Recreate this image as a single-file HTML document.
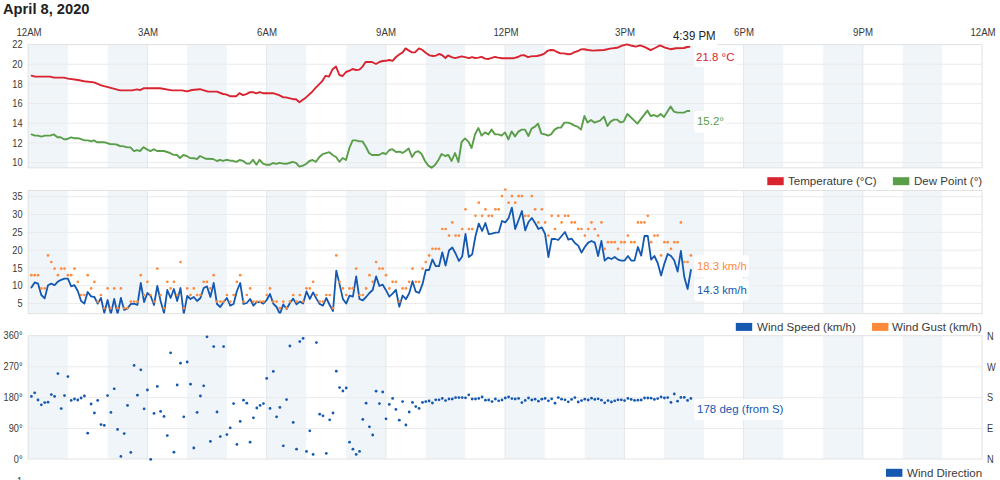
<!DOCTYPE html>
<html><head><meta charset="utf-8"><title>Weather</title>
<style>
html,body{margin:0;padding:0;background:#fff;}
body{width:1000px;height:480px;position:relative;overflow:hidden;font-family:"Liberation Sans",sans-serif;}
.t{position:absolute;white-space:nowrap;line-height:1;color:#333;}
.title{font-size:14.7px;font-weight:bold;color:#222;}
.xl{font-size:10px;color:#3a3a3a;transform:scaleX(0.965);}
.yl{font-size:10.5px;color:#3a3a3a;line-height:12px;transform:scaleX(0.875);transform-origin:0 50%;}
.lg{font-size:11.55px;color:#3a3a3a;line-height:14px;}
.vbx{position:absolute;background:rgba(255,255,255,0.88);border-radius:3px;}
</style></head><body>
<svg width="1000" height="480" viewBox="0 0 1000 480" style="position:absolute;left:0;top:0">
<rect x="28.15" y="44.6" width="39.75" height="123.20" fill="#f0f5fa"/>
<rect x="107.65" y="44.6" width="39.75" height="123.20" fill="#f0f5fa"/>
<rect x="187.14" y="44.6" width="39.75" height="123.20" fill="#f0f5fa"/>
<rect x="266.64" y="44.6" width="39.75" height="123.20" fill="#f0f5fa"/>
<rect x="346.13" y="44.6" width="39.75" height="123.20" fill="#f0f5fa"/>
<rect x="425.63" y="44.6" width="39.75" height="123.20" fill="#f0f5fa"/>
<rect x="505.12" y="44.6" width="39.75" height="123.20" fill="#f0f5fa"/>
<rect x="584.62" y="44.6" width="39.75" height="123.20" fill="#f0f5fa"/>
<rect x="664.12" y="44.6" width="39.75" height="123.20" fill="#f0f5fa"/>
<rect x="743.61" y="44.6" width="39.75" height="123.20" fill="#f0f5fa"/>
<rect x="823.11" y="44.6" width="39.75" height="123.20" fill="#f0f5fa"/>
<rect x="902.60" y="44.6" width="39.75" height="123.20" fill="#f0f5fa"/>
<line x1="28.15" x2="982.1" y1="64.27" y2="64.27" stroke="#eaeaea" stroke-width="1"/>
<line x1="28.15" x2="982.1" y1="83.94" y2="83.94" stroke="#eaeaea" stroke-width="1"/>
<line x1="28.15" x2="982.1" y1="103.61" y2="103.61" stroke="#eaeaea" stroke-width="1"/>
<line x1="28.15" x2="982.1" y1="123.28" y2="123.28" stroke="#eaeaea" stroke-width="1"/>
<line x1="28.15" x2="982.1" y1="142.95" y2="142.95" stroke="#eaeaea" stroke-width="1"/>
<line x1="28.15" x2="982.1" y1="162.62" y2="162.62" stroke="#eaeaea" stroke-width="1"/>
<line x1="147.39" x2="147.39" y1="44.6" y2="167.8" stroke="#e5e6e8" stroke-width="1"/>
<line x1="266.64" x2="266.64" y1="44.6" y2="167.8" stroke="#e5e6e8" stroke-width="1"/>
<line x1="385.88" x2="385.88" y1="44.6" y2="167.8" stroke="#e5e6e8" stroke-width="1"/>
<line x1="505.12" x2="505.12" y1="44.6" y2="167.8" stroke="#e5e6e8" stroke-width="1"/>
<line x1="624.37" x2="624.37" y1="44.6" y2="167.8" stroke="#e5e6e8" stroke-width="1"/>
<line x1="743.61" x2="743.61" y1="44.6" y2="167.8" stroke="#e5e6e8" stroke-width="1"/>
<line x1="862.86" x2="862.86" y1="44.6" y2="167.8" stroke="#e5e6e8" stroke-width="1"/>
<rect x="28.15" y="44.6" width="953.95" height="123.20" fill="none" stroke="#e2e2e2" stroke-width="1"/>
<rect x="28.15" y="190.5" width="39.75" height="123.10" fill="#f0f5fa"/>
<rect x="107.65" y="190.5" width="39.75" height="123.10" fill="#f0f5fa"/>
<rect x="187.14" y="190.5" width="39.75" height="123.10" fill="#f0f5fa"/>
<rect x="266.64" y="190.5" width="39.75" height="123.10" fill="#f0f5fa"/>
<rect x="346.13" y="190.5" width="39.75" height="123.10" fill="#f0f5fa"/>
<rect x="425.63" y="190.5" width="39.75" height="123.10" fill="#f0f5fa"/>
<rect x="505.12" y="190.5" width="39.75" height="123.10" fill="#f0f5fa"/>
<rect x="584.62" y="190.5" width="39.75" height="123.10" fill="#f0f5fa"/>
<rect x="664.12" y="190.5" width="39.75" height="123.10" fill="#f0f5fa"/>
<rect x="743.61" y="190.5" width="39.75" height="123.10" fill="#f0f5fa"/>
<rect x="823.11" y="190.5" width="39.75" height="123.10" fill="#f0f5fa"/>
<rect x="902.60" y="190.5" width="39.75" height="123.10" fill="#f0f5fa"/>
<line x1="28.15" x2="982.1" y1="196.73" y2="196.73" stroke="#eaeaea" stroke-width="1"/>
<line x1="28.15" x2="982.1" y1="214.54" y2="214.54" stroke="#eaeaea" stroke-width="1"/>
<line x1="28.15" x2="982.1" y1="232.35" y2="232.35" stroke="#eaeaea" stroke-width="1"/>
<line x1="28.15" x2="982.1" y1="250.16" y2="250.16" stroke="#eaeaea" stroke-width="1"/>
<line x1="28.15" x2="982.1" y1="267.97" y2="267.97" stroke="#eaeaea" stroke-width="1"/>
<line x1="28.15" x2="982.1" y1="285.78" y2="285.78" stroke="#eaeaea" stroke-width="1"/>
<line x1="28.15" x2="982.1" y1="303.59" y2="303.59" stroke="#eaeaea" stroke-width="1"/>
<line x1="147.39" x2="147.39" y1="190.5" y2="313.6" stroke="#e5e6e8" stroke-width="1"/>
<line x1="266.64" x2="266.64" y1="190.5" y2="313.6" stroke="#e5e6e8" stroke-width="1"/>
<line x1="385.88" x2="385.88" y1="190.5" y2="313.6" stroke="#e5e6e8" stroke-width="1"/>
<line x1="505.12" x2="505.12" y1="190.5" y2="313.6" stroke="#e5e6e8" stroke-width="1"/>
<line x1="624.37" x2="624.37" y1="190.5" y2="313.6" stroke="#e5e6e8" stroke-width="1"/>
<line x1="743.61" x2="743.61" y1="190.5" y2="313.6" stroke="#e5e6e8" stroke-width="1"/>
<line x1="862.86" x2="862.86" y1="190.5" y2="313.6" stroke="#e5e6e8" stroke-width="1"/>
<rect x="28.15" y="190.5" width="953.95" height="123.10" fill="none" stroke="#e2e2e2" stroke-width="1"/>
<rect x="28.15" y="335.7" width="39.75" height="123.30" fill="#f0f5fa"/>
<rect x="107.65" y="335.7" width="39.75" height="123.30" fill="#f0f5fa"/>
<rect x="187.14" y="335.7" width="39.75" height="123.30" fill="#f0f5fa"/>
<rect x="266.64" y="335.7" width="39.75" height="123.30" fill="#f0f5fa"/>
<rect x="346.13" y="335.7" width="39.75" height="123.30" fill="#f0f5fa"/>
<rect x="425.63" y="335.7" width="39.75" height="123.30" fill="#f0f5fa"/>
<rect x="505.12" y="335.7" width="39.75" height="123.30" fill="#f0f5fa"/>
<rect x="584.62" y="335.7" width="39.75" height="123.30" fill="#f0f5fa"/>
<rect x="664.12" y="335.7" width="39.75" height="123.30" fill="#f0f5fa"/>
<rect x="743.61" y="335.7" width="39.75" height="123.30" fill="#f0f5fa"/>
<rect x="823.11" y="335.7" width="39.75" height="123.30" fill="#f0f5fa"/>
<rect x="902.60" y="335.7" width="39.75" height="123.30" fill="#f0f5fa"/>
<line x1="28.15" x2="982.1" y1="366.82" y2="366.82" stroke="#eaeaea" stroke-width="1"/>
<line x1="28.15" x2="982.1" y1="397.65" y2="397.65" stroke="#eaeaea" stroke-width="1"/>
<line x1="28.15" x2="982.1" y1="428.48" y2="428.48" stroke="#eaeaea" stroke-width="1"/>
<line x1="147.39" x2="147.39" y1="335.7" y2="459.0" stroke="#e5e6e8" stroke-width="1"/>
<line x1="266.64" x2="266.64" y1="335.7" y2="459.0" stroke="#e5e6e8" stroke-width="1"/>
<line x1="385.88" x2="385.88" y1="335.7" y2="459.0" stroke="#e5e6e8" stroke-width="1"/>
<line x1="505.12" x2="505.12" y1="335.7" y2="459.0" stroke="#e5e6e8" stroke-width="1"/>
<line x1="624.37" x2="624.37" y1="335.7" y2="459.0" stroke="#e5e6e8" stroke-width="1"/>
<line x1="743.61" x2="743.61" y1="335.7" y2="459.0" stroke="#e5e6e8" stroke-width="1"/>
<line x1="862.86" x2="862.86" y1="335.7" y2="459.0" stroke="#e5e6e8" stroke-width="1"/>
<rect x="28.15" y="335.7" width="953.95" height="123.30" fill="none" stroke="#e2e2e2" stroke-width="1"/>
<polyline points="31.6,75.6 35.0,76.6 50.0,76.6 54.0,77.6 64.0,77.6 68.0,78.6 78.0,80.0 84.0,81.2 94.0,82.4 102.0,85.6 109.0,87.4 120.0,90.4 132.0,90.4 137.0,89.4 140.0,90.2 144.0,88.2 160.0,88.2 172.0,90.4 182.0,90.4 187.0,91.4 192.0,90.0 200.0,89.2 208.0,91.6 217.0,91.6 223.0,94.0 226.0,94.4 230.0,96.2 236.4,96.2 239.4,93.2 243.0,95.2 246.4,94.2 250.0,92.2 253.0,92.2 256.4,93.4 259.6,92.2 263.0,93.2 273.0,93.2 279.0,95.2 283.0,97.2 286.0,97.4 293.0,99.2 296.0,99.2 299.4,102.2 306.0,97.4 312.0,92.0 316.0,87.4 322.0,81.4 325.6,75.8 329.0,76.6 332.4,69.6 336.0,66.6 339.4,75.0 342.6,76.0 346.0,72.0 349.6,70.6 352.6,69.0 356.0,70.0 359.4,69.6 362.6,66.6 365.6,62.0 372.0,62.0 376.0,64.0 379.4,62.0 382.6,61.0 386.0,60.8 389.0,60.0 392.6,60.8 396.0,57.0 400.0,54.0 402.4,52.6 405.6,48.4 409.0,50.6 412.0,52.4 415.0,52.4 419.0,48.4 422.4,50.0 426.0,53.0 429.6,55.4 433.0,56.0 436.0,55.6 439.0,54.0 442.0,55.0 445.4,58.0 448.0,55.4 451.6,57.2 455.0,58.2 458.0,57.4 461.6,56.4 465.0,57.2 469.0,58.2 472.0,57.2 475.0,58.0 478.4,57.6 481.6,56.8 485.0,58.6 488.0,59.0 491.0,58.2 495.0,56.8 498.0,57.6 502.0,58.2 514.0,58.2 518.0,57.0 521.0,55.4 524.0,55.2 528.0,57.2 531.0,56.4 537.0,56.0 541.0,55.0 544.4,53.6 548.0,50.6 551.0,50.0 554.0,50.2 557.0,52.0 560.0,53.2 564.0,53.4 568.0,54.2 571.0,54.0 574.0,52.4 578.0,51.0 581.0,49.4 584.0,49.2 588.0,50.0 593.0,50.6 599.0,50.2 604.0,50.0 610.0,48.6 617.0,47.8 622.0,45.6 627.0,44.4 632.0,45.8 636.0,46.6 640.0,45.4 645.0,47.2 650.6,50.2 655.0,48.0 660.0,45.4 665.0,47.6 670.6,49.2 676.0,48.2 684.0,48.0 687.0,47.0 689.4,46.8" fill="none" stroke="#d9232f" stroke-width="1.9" stroke-linejoin="round" stroke-linecap="round"/>
<polyline points="31.6,134.4 35.0,135.6 38.0,135.6 41.4,136.6 45.0,135.6 50.0,135.6 54.0,134.4 57.4,137.2 60.6,137.2 64.0,139.2 67.0,139.2 71.0,137.4 74.0,138.2 78.0,138.2 84.0,140.2 88.0,140.4 91.0,141.4 94.0,140.4 97.0,142.2 104.0,142.2 110.0,144.0 116.0,144.4 120.0,146.0 124.0,146.4 127.0,147.4 130.4,147.4 134.0,151.2 137.0,150.2 140.0,151.0 143.6,147.2 147.0,149.4 150.4,151.2 153.6,149.2 157.0,151.0 164.0,151.0 170.0,153.0 173.0,154.6 177.0,155.0 180.0,158.0 183.4,155.0 187.0,156.2 190.0,158.0 194.0,158.2 197.0,159.2 200.0,156.0 206.0,158.8 213.0,159.0 217.0,161.0 220.0,159.8 223.0,160.8 226.4,159.8 230.0,160.6 233.0,160.8 236.4,161.8 239.6,160.0 243.0,160.8 246.4,163.6 249.6,163.6 253.0,159.8 256.4,164.8 259.6,159.8 263.0,163.6 266.4,164.8 269.6,164.8 273.0,163.0 276.4,163.8 279.6,162.8 283.0,163.6 286.0,163.8 289.4,163.0 292.6,161.8 296.0,162.8 299.4,166.6 303.0,165.6 306.0,164.0 309.4,161.0 312.6,160.0 316.0,161.8 319.4,157.0 322.6,154.2 326.0,153.2 329.4,152.2 332.6,155.0 336.0,157.0 339.4,161.8 342.6,158.0 346.0,160.0 349.4,148.0 352.6,140.4 356.0,140.4 359.4,141.4 362.6,141.4 366.0,147.0 369.0,153.0 372.0,155.0 379.0,155.0 382.6,153.0 386.0,154.0 389.4,150.0 392.4,149.2 396.0,152.0 400.0,151.6 402.4,153.0 405.6,151.0 408.6,148.4 412.0,157.0 415.0,152.4 418.4,151.2 421.6,154.0 425.0,161.0 428.4,165.6 431.6,167.8 435.0,165.0 438.4,160.0 441.6,154.0 445.0,156.0 448.4,155.0 451.6,161.0 455.0,153.0 458.4,162.0 461.6,142.0 465.0,138.4 468.4,141.6 471.6,148.0 475.0,134.4 478.4,128.0 481.6,135.6 485.0,132.4 488.4,134.4 491.6,129.6 495.0,134.4 498.4,134.4 501.6,135.6 505.0,132.4 508.4,139.4 511.6,131.4 515.0,136.4 518.4,131.6 521.6,129.6 525.0,129.6 528.4,136.0 531.6,128.6 535.0,126.6 538.0,123.6 541.4,133.6 545.0,134.4 548.0,135.6 551.0,134.4 554.6,129.6 558.0,127.6 561.0,127.6 564.4,122.6 568.0,122.6 571.0,123.6 574.4,125.6 577.6,126.6 581.0,129.6 584.4,116.0 587.6,122.6 591.0,120.0 594.4,122.6 600.0,120.6 604.0,116.6 607.4,126.0 610.6,121.6 614.0,119.6 617.0,119.6 620.6,122.4 623.6,121.6 627.4,114.0 637.4,123.6 647.4,110.6 650.6,116.0 654.0,115.0 657.4,116.6 660.6,114.0 664.0,117.0 670.6,106.6 674.0,111.6 677.4,112.6 684.0,112.6 687.0,111.0 689.4,111.0" fill="none" stroke="#5a9e49" stroke-width="1.9" stroke-linejoin="round" stroke-linecap="round"/>
<clipPath id="c2"><rect x="28.15" y="190.5" width="953.95" height="123.10"/></clipPath><g clip-path="url(#c2)">
<polyline points="31.4,287.6 34.7,282.4 38.0,283.6 41.3,295.0 44.7,298.4 48.0,285.2 51.3,283.6 54.6,285.2 57.9,281.6 61.2,279.8 64.5,278.6 67.9,278.6 71.2,286.4 74.5,285.2 77.8,291.0 81.1,301.0 84.4,303.6 87.7,292.0 91.1,296.4 94.4,297.0 97.7,303.6 101.0,298.0 104.3,313.0 107.6,300.0 110.9,314.0 114.2,299.0 117.6,314.0 120.9,298.0 124.2,310.0 127.5,308.4 130.8,304.0 134.1,303.6 137.4,305.0 140.8,283.0 144.1,302.0 147.4,293.0 150.7,296.0 154.0,305.0 157.3,286.0 160.6,301.0 164.0,313.0 167.3,290.0 170.6,298.0 173.9,289.0 177.2,301.0 180.5,288.0 183.8,314.0 187.2,296.0 190.5,299.0 193.8,297.0 197.1,301.0 200.4,298.0 203.7,288.0 207.0,286.4 210.4,297.0 213.7,283.0 217.0,304.0 220.3,307.0 223.6,302.0 226.9,298.0 230.2,305.6 233.6,304.0 236.9,291.0 240.2,283.0 243.5,304.0 246.8,303.0 250.1,299.0 253.4,305.6 256.8,302.0 260.1,302.0 263.4,303.6 266.7,300.0 270.0,294.0 273.3,303.6 276.6,307.0 279.9,314.0 283.3,304.4 286.6,309.0 289.9,303.0 293.2,298.6 296.5,304.4 299.8,301.6 303.1,303.6 306.5,291.4 309.8,299.0 313.1,292.4 316.4,298.6 319.7,304.0 323.0,305.6 326.3,298.0 329.7,305.0 333.0,311.0 336.3,270.6 339.6,284.4 342.9,299.0 346.2,303.6 349.5,295.6 352.9,296.6 356.2,276.4 359.5,299.0 362.8,300.4 366.1,297.0 369.4,293.0 372.7,290.0 376.1,276.4 379.4,286.0 382.7,284.7 386.0,290.2 389.3,296.7 392.6,293.7 395.9,289.8 399.3,306.7 402.6,295.5 405.9,299.2 409.2,293.2 412.5,281.2 415.8,291.7 419.1,292.8 422.5,284.2 425.8,270.0 429.1,270.0 432.4,259.5 435.7,266.2 439.0,266.2 442.3,252.3 445.6,265.5 449.0,250.5 452.3,247.5 455.6,253.5 458.9,261.0 462.2,256.5 465.5,234.0 468.8,257.0 472.2,254.4 475.5,236.0 478.8,223.6 482.1,231.0 485.4,223.0 488.7,234.0 492.0,233.6 495.4,232.6 498.7,232.4 502.0,221.0 505.3,222.4 508.6,218.0 511.9,207.6 515.2,229.0 518.6,220.0 521.9,211.0 525.2,230.4 528.5,222.0 531.8,218.0 535.1,223.0 538.4,229.0 541.8,227.4 545.1,234.0 548.4,257.0 551.7,239.0 555.0,239.0 558.3,240.0 561.6,236.0 565.0,232.0 568.3,239.6 571.6,238.6 574.9,243.0 578.2,245.6 581.5,252.6 584.8,247.0 588.2,242.6 591.5,241.0 594.8,242.6 598.1,256.0 601.4,241.0 604.7,260.6 608.0,257.6 611.4,259.0 614.7,257.0 618.0,259.6 621.3,260.6 624.6,260.6 627.9,256.0 631.2,260.6 634.5,260.6 637.9,247.0 641.2,255.6 644.5,236.0 647.8,236.0 651.1,259.6 654.4,256.0 657.7,263.0 661.1,275.6 664.4,263.6 667.7,254.0 671.0,256.0 674.3,260.6 677.6,271.6 680.9,251.0 684.3,277.0 687.6,289.0 690.9,270.0" fill="none" stroke="#1458b0" stroke-width="1.8" stroke-linejoin="round" stroke-linecap="round"/>
</g>
<circle cx="31.4" cy="275.2" r="1.35" fill="#ff8a3c"/>
<circle cx="34.7" cy="275.2" r="1.35" fill="#ff8a3c"/>
<circle cx="38.0" cy="275.2" r="1.35" fill="#ff8a3c"/>
<circle cx="41.3" cy="288.4" r="1.35" fill="#ff8a3c"/>
<circle cx="44.7" cy="288.4" r="1.35" fill="#ff8a3c"/>
<circle cx="48.0" cy="255.4" r="1.35" fill="#ff8a3c"/>
<circle cx="51.3" cy="262.0" r="1.35" fill="#ff8a3c"/>
<circle cx="54.6" cy="268.6" r="1.35" fill="#ff8a3c"/>
<circle cx="57.9" cy="275.2" r="1.35" fill="#ff8a3c"/>
<circle cx="61.2" cy="268.6" r="1.35" fill="#ff8a3c"/>
<circle cx="64.5" cy="268.6" r="1.35" fill="#ff8a3c"/>
<circle cx="67.9" cy="275.2" r="1.35" fill="#ff8a3c"/>
<circle cx="71.2" cy="275.2" r="1.35" fill="#ff8a3c"/>
<circle cx="74.5" cy="268.6" r="1.35" fill="#ff8a3c"/>
<circle cx="77.8" cy="281.8" r="1.35" fill="#ff8a3c"/>
<circle cx="81.1" cy="295.0" r="1.35" fill="#ff8a3c"/>
<circle cx="84.4" cy="295.0" r="1.35" fill="#ff8a3c"/>
<circle cx="87.7" cy="275.2" r="1.35" fill="#ff8a3c"/>
<circle cx="91.1" cy="288.4" r="1.35" fill="#ff8a3c"/>
<circle cx="94.4" cy="281.8" r="1.35" fill="#ff8a3c"/>
<circle cx="97.7" cy="301.6" r="1.35" fill="#ff8a3c"/>
<circle cx="101.0" cy="295.0" r="1.35" fill="#ff8a3c"/>
<circle cx="104.3" cy="308.2" r="1.35" fill="#ff8a3c"/>
<circle cx="107.6" cy="288.4" r="1.35" fill="#ff8a3c"/>
<circle cx="110.9" cy="308.2" r="1.35" fill="#ff8a3c"/>
<circle cx="114.2" cy="288.4" r="1.35" fill="#ff8a3c"/>
<circle cx="117.6" cy="308.2" r="1.35" fill="#ff8a3c"/>
<circle cx="120.9" cy="288.4" r="1.35" fill="#ff8a3c"/>
<circle cx="124.2" cy="308.2" r="1.35" fill="#ff8a3c"/>
<circle cx="127.5" cy="308.2" r="1.35" fill="#ff8a3c"/>
<circle cx="130.8" cy="301.6" r="1.35" fill="#ff8a3c"/>
<circle cx="134.1" cy="301.6" r="1.35" fill="#ff8a3c"/>
<circle cx="137.4" cy="301.6" r="1.35" fill="#ff8a3c"/>
<circle cx="140.8" cy="275.2" r="1.35" fill="#ff8a3c"/>
<circle cx="144.1" cy="295.0" r="1.35" fill="#ff8a3c"/>
<circle cx="147.4" cy="281.8" r="1.35" fill="#ff8a3c"/>
<circle cx="150.7" cy="295.0" r="1.35" fill="#ff8a3c"/>
<circle cx="154.0" cy="301.6" r="1.35" fill="#ff8a3c"/>
<circle cx="157.3" cy="268.6" r="1.35" fill="#ff8a3c"/>
<circle cx="160.6" cy="295.0" r="1.35" fill="#ff8a3c"/>
<circle cx="164.0" cy="308.2" r="1.35" fill="#ff8a3c"/>
<circle cx="167.3" cy="281.8" r="1.35" fill="#ff8a3c"/>
<circle cx="170.6" cy="288.4" r="1.35" fill="#ff8a3c"/>
<circle cx="173.9" cy="281.8" r="1.35" fill="#ff8a3c"/>
<circle cx="177.2" cy="295.0" r="1.35" fill="#ff8a3c"/>
<circle cx="180.5" cy="262.0" r="1.35" fill="#ff8a3c"/>
<circle cx="183.8" cy="308.2" r="1.35" fill="#ff8a3c"/>
<circle cx="187.2" cy="288.4" r="1.35" fill="#ff8a3c"/>
<circle cx="190.5" cy="295.0" r="1.35" fill="#ff8a3c"/>
<circle cx="193.8" cy="288.4" r="1.35" fill="#ff8a3c"/>
<circle cx="197.1" cy="295.0" r="1.35" fill="#ff8a3c"/>
<circle cx="200.4" cy="295.0" r="1.35" fill="#ff8a3c"/>
<circle cx="203.7" cy="281.8" r="1.35" fill="#ff8a3c"/>
<circle cx="207.0" cy="281.8" r="1.35" fill="#ff8a3c"/>
<circle cx="210.4" cy="288.4" r="1.35" fill="#ff8a3c"/>
<circle cx="213.7" cy="275.2" r="1.35" fill="#ff8a3c"/>
<circle cx="217.0" cy="301.6" r="1.35" fill="#ff8a3c"/>
<circle cx="220.3" cy="301.6" r="1.35" fill="#ff8a3c"/>
<circle cx="223.6" cy="301.6" r="1.35" fill="#ff8a3c"/>
<circle cx="226.9" cy="295.0" r="1.35" fill="#ff8a3c"/>
<circle cx="230.2" cy="301.6" r="1.35" fill="#ff8a3c"/>
<circle cx="233.6" cy="295.0" r="1.35" fill="#ff8a3c"/>
<circle cx="236.9" cy="281.8" r="1.35" fill="#ff8a3c"/>
<circle cx="240.2" cy="275.2" r="1.35" fill="#ff8a3c"/>
<circle cx="243.5" cy="301.6" r="1.35" fill="#ff8a3c"/>
<circle cx="246.8" cy="295.0" r="1.35" fill="#ff8a3c"/>
<circle cx="250.1" cy="288.4" r="1.35" fill="#ff8a3c"/>
<circle cx="253.4" cy="301.6" r="1.35" fill="#ff8a3c"/>
<circle cx="256.8" cy="301.6" r="1.35" fill="#ff8a3c"/>
<circle cx="260.1" cy="301.6" r="1.35" fill="#ff8a3c"/>
<circle cx="263.4" cy="301.6" r="1.35" fill="#ff8a3c"/>
<circle cx="266.7" cy="295.0" r="1.35" fill="#ff8a3c"/>
<circle cx="270.0" cy="288.4" r="1.35" fill="#ff8a3c"/>
<circle cx="273.3" cy="301.6" r="1.35" fill="#ff8a3c"/>
<circle cx="276.6" cy="301.6" r="1.35" fill="#ff8a3c"/>
<circle cx="279.9" cy="308.2" r="1.35" fill="#ff8a3c"/>
<circle cx="283.3" cy="301.6" r="1.35" fill="#ff8a3c"/>
<circle cx="286.6" cy="308.2" r="1.35" fill="#ff8a3c"/>
<circle cx="289.9" cy="301.6" r="1.35" fill="#ff8a3c"/>
<circle cx="293.2" cy="295.0" r="1.35" fill="#ff8a3c"/>
<circle cx="296.5" cy="301.6" r="1.35" fill="#ff8a3c"/>
<circle cx="299.8" cy="295.0" r="1.35" fill="#ff8a3c"/>
<circle cx="303.1" cy="301.6" r="1.35" fill="#ff8a3c"/>
<circle cx="306.5" cy="288.4" r="1.35" fill="#ff8a3c"/>
<circle cx="309.8" cy="288.4" r="1.35" fill="#ff8a3c"/>
<circle cx="313.1" cy="281.8" r="1.35" fill="#ff8a3c"/>
<circle cx="316.4" cy="295.0" r="1.35" fill="#ff8a3c"/>
<circle cx="319.7" cy="301.6" r="1.35" fill="#ff8a3c"/>
<circle cx="323.0" cy="301.6" r="1.35" fill="#ff8a3c"/>
<circle cx="326.3" cy="295.0" r="1.35" fill="#ff8a3c"/>
<circle cx="329.7" cy="295.0" r="1.35" fill="#ff8a3c"/>
<circle cx="333.0" cy="308.2" r="1.35" fill="#ff8a3c"/>
<circle cx="336.3" cy="255.4" r="1.35" fill="#ff8a3c"/>
<circle cx="339.6" cy="281.8" r="1.35" fill="#ff8a3c"/>
<circle cx="342.9" cy="288.4" r="1.35" fill="#ff8a3c"/>
<circle cx="346.2" cy="295.0" r="1.35" fill="#ff8a3c"/>
<circle cx="349.5" cy="288.4" r="1.35" fill="#ff8a3c"/>
<circle cx="352.9" cy="288.4" r="1.35" fill="#ff8a3c"/>
<circle cx="356.2" cy="268.6" r="1.35" fill="#ff8a3c"/>
<circle cx="359.5" cy="295.0" r="1.35" fill="#ff8a3c"/>
<circle cx="362.8" cy="295.0" r="1.35" fill="#ff8a3c"/>
<circle cx="366.1" cy="288.4" r="1.35" fill="#ff8a3c"/>
<circle cx="369.4" cy="275.2" r="1.35" fill="#ff8a3c"/>
<circle cx="372.7" cy="281.8" r="1.35" fill="#ff8a3c"/>
<circle cx="376.1" cy="262.0" r="1.35" fill="#ff8a3c"/>
<circle cx="379.4" cy="268.6" r="1.35" fill="#ff8a3c"/>
<circle cx="382.7" cy="268.6" r="1.35" fill="#ff8a3c"/>
<circle cx="386.0" cy="275.2" r="1.35" fill="#ff8a3c"/>
<circle cx="389.3" cy="288.4" r="1.35" fill="#ff8a3c"/>
<circle cx="392.6" cy="281.8" r="1.35" fill="#ff8a3c"/>
<circle cx="395.9" cy="281.8" r="1.35" fill="#ff8a3c"/>
<circle cx="399.3" cy="301.6" r="1.35" fill="#ff8a3c"/>
<circle cx="402.6" cy="288.4" r="1.35" fill="#ff8a3c"/>
<circle cx="405.9" cy="288.4" r="1.35" fill="#ff8a3c"/>
<circle cx="409.2" cy="281.8" r="1.35" fill="#ff8a3c"/>
<circle cx="412.5" cy="268.6" r="1.35" fill="#ff8a3c"/>
<circle cx="415.8" cy="281.8" r="1.35" fill="#ff8a3c"/>
<circle cx="419.1" cy="281.8" r="1.35" fill="#ff8a3c"/>
<circle cx="422.5" cy="268.6" r="1.35" fill="#ff8a3c"/>
<circle cx="425.8" cy="262.0" r="1.35" fill="#ff8a3c"/>
<circle cx="429.1" cy="255.4" r="1.35" fill="#ff8a3c"/>
<circle cx="432.4" cy="248.8" r="1.35" fill="#ff8a3c"/>
<circle cx="435.7" cy="248.8" r="1.35" fill="#ff8a3c"/>
<circle cx="439.0" cy="248.8" r="1.35" fill="#ff8a3c"/>
<circle cx="442.3" cy="229.0" r="1.35" fill="#ff8a3c"/>
<circle cx="445.6" cy="229.0" r="1.35" fill="#ff8a3c"/>
<circle cx="449.0" cy="235.6" r="1.35" fill="#ff8a3c"/>
<circle cx="452.3" cy="222.4" r="1.35" fill="#ff8a3c"/>
<circle cx="455.6" cy="235.6" r="1.35" fill="#ff8a3c"/>
<circle cx="458.9" cy="235.6" r="1.35" fill="#ff8a3c"/>
<circle cx="462.2" cy="229.0" r="1.35" fill="#ff8a3c"/>
<circle cx="465.5" cy="209.3" r="1.35" fill="#ff8a3c"/>
<circle cx="468.8" cy="229.0" r="1.35" fill="#ff8a3c"/>
<circle cx="472.2" cy="229.0" r="1.35" fill="#ff8a3c"/>
<circle cx="475.5" cy="215.8" r="1.35" fill="#ff8a3c"/>
<circle cx="478.8" cy="202.7" r="1.35" fill="#ff8a3c"/>
<circle cx="482.1" cy="215.8" r="1.35" fill="#ff8a3c"/>
<circle cx="485.4" cy="209.3" r="1.35" fill="#ff8a3c"/>
<circle cx="488.7" cy="215.8" r="1.35" fill="#ff8a3c"/>
<circle cx="492.0" cy="215.8" r="1.35" fill="#ff8a3c"/>
<circle cx="495.4" cy="209.3" r="1.35" fill="#ff8a3c"/>
<circle cx="498.7" cy="209.3" r="1.35" fill="#ff8a3c"/>
<circle cx="502.0" cy="196.1" r="1.35" fill="#ff8a3c"/>
<circle cx="505.3" cy="189.5" r="1.35" fill="#ff8a3c"/>
<circle cx="508.6" cy="202.7" r="1.35" fill="#ff8a3c"/>
<circle cx="511.9" cy="196.1" r="1.35" fill="#ff8a3c"/>
<circle cx="515.2" cy="202.7" r="1.35" fill="#ff8a3c"/>
<circle cx="518.6" cy="196.1" r="1.35" fill="#ff8a3c"/>
<circle cx="521.9" cy="196.1" r="1.35" fill="#ff8a3c"/>
<circle cx="525.2" cy="215.8" r="1.35" fill="#ff8a3c"/>
<circle cx="528.5" cy="215.8" r="1.35" fill="#ff8a3c"/>
<circle cx="531.8" cy="196.1" r="1.35" fill="#ff8a3c"/>
<circle cx="535.1" cy="209.3" r="1.35" fill="#ff8a3c"/>
<circle cx="538.4" cy="222.4" r="1.35" fill="#ff8a3c"/>
<circle cx="541.8" cy="209.3" r="1.35" fill="#ff8a3c"/>
<circle cx="545.1" cy="222.4" r="1.35" fill="#ff8a3c"/>
<circle cx="548.4" cy="235.6" r="1.35" fill="#ff8a3c"/>
<circle cx="551.7" cy="215.8" r="1.35" fill="#ff8a3c"/>
<circle cx="555.0" cy="229.0" r="1.35" fill="#ff8a3c"/>
<circle cx="558.3" cy="215.8" r="1.35" fill="#ff8a3c"/>
<circle cx="561.6" cy="222.4" r="1.35" fill="#ff8a3c"/>
<circle cx="565.0" cy="215.8" r="1.35" fill="#ff8a3c"/>
<circle cx="568.3" cy="215.8" r="1.35" fill="#ff8a3c"/>
<circle cx="571.6" cy="222.4" r="1.35" fill="#ff8a3c"/>
<circle cx="574.9" cy="222.4" r="1.35" fill="#ff8a3c"/>
<circle cx="578.2" cy="229.0" r="1.35" fill="#ff8a3c"/>
<circle cx="581.5" cy="229.0" r="1.35" fill="#ff8a3c"/>
<circle cx="584.8" cy="235.6" r="1.35" fill="#ff8a3c"/>
<circle cx="588.2" cy="229.0" r="1.35" fill="#ff8a3c"/>
<circle cx="591.5" cy="222.4" r="1.35" fill="#ff8a3c"/>
<circle cx="594.8" cy="229.0" r="1.35" fill="#ff8a3c"/>
<circle cx="598.1" cy="235.6" r="1.35" fill="#ff8a3c"/>
<circle cx="601.4" cy="222.4" r="1.35" fill="#ff8a3c"/>
<circle cx="604.7" cy="248.8" r="1.35" fill="#ff8a3c"/>
<circle cx="608.0" cy="242.2" r="1.35" fill="#ff8a3c"/>
<circle cx="611.4" cy="242.2" r="1.35" fill="#ff8a3c"/>
<circle cx="614.7" cy="242.2" r="1.35" fill="#ff8a3c"/>
<circle cx="618.0" cy="248.8" r="1.35" fill="#ff8a3c"/>
<circle cx="621.3" cy="242.2" r="1.35" fill="#ff8a3c"/>
<circle cx="624.6" cy="242.2" r="1.35" fill="#ff8a3c"/>
<circle cx="627.9" cy="235.6" r="1.35" fill="#ff8a3c"/>
<circle cx="631.2" cy="242.2" r="1.35" fill="#ff8a3c"/>
<circle cx="634.5" cy="242.2" r="1.35" fill="#ff8a3c"/>
<circle cx="637.9" cy="222.4" r="1.35" fill="#ff8a3c"/>
<circle cx="641.2" cy="222.4" r="1.35" fill="#ff8a3c"/>
<circle cx="644.5" cy="222.4" r="1.35" fill="#ff8a3c"/>
<circle cx="647.8" cy="215.8" r="1.35" fill="#ff8a3c"/>
<circle cx="651.1" cy="242.2" r="1.35" fill="#ff8a3c"/>
<circle cx="654.4" cy="235.6" r="1.35" fill="#ff8a3c"/>
<circle cx="657.7" cy="235.6" r="1.35" fill="#ff8a3c"/>
<circle cx="661.1" cy="255.4" r="1.35" fill="#ff8a3c"/>
<circle cx="664.4" cy="242.2" r="1.35" fill="#ff8a3c"/>
<circle cx="667.7" cy="242.2" r="1.35" fill="#ff8a3c"/>
<circle cx="671.0" cy="248.8" r="1.35" fill="#ff8a3c"/>
<circle cx="674.3" cy="242.2" r="1.35" fill="#ff8a3c"/>
<circle cx="677.6" cy="242.2" r="1.35" fill="#ff8a3c"/>
<circle cx="680.9" cy="222.4" r="1.35" fill="#ff8a3c"/>
<circle cx="684.3" cy="262.0" r="1.35" fill="#ff8a3c"/>
<circle cx="687.6" cy="262.0" r="1.35" fill="#ff8a3c"/>
<circle cx="690.9" cy="255.4" r="1.35" fill="#ff8a3c"/>
<circle cx="31.4" cy="396.4" r="1.4" fill="#1458b0"/>
<circle cx="34.7" cy="392.8" r="1.4" fill="#1458b0"/>
<circle cx="38.0" cy="400.0" r="1.4" fill="#1458b0"/>
<circle cx="41.3" cy="404.8" r="1.4" fill="#1458b0"/>
<circle cx="44.7" cy="402.6" r="1.4" fill="#1458b0"/>
<circle cx="48.0" cy="402.2" r="1.4" fill="#1458b0"/>
<circle cx="51.3" cy="394.6" r="1.4" fill="#1458b0"/>
<circle cx="54.6" cy="396.4" r="1.4" fill="#1458b0"/>
<circle cx="57.9" cy="373.6" r="1.4" fill="#1458b0"/>
<circle cx="61.2" cy="408.6" r="1.4" fill="#1458b0"/>
<circle cx="64.5" cy="395.6" r="1.4" fill="#1458b0"/>
<circle cx="67.9" cy="376.6" r="1.4" fill="#1458b0"/>
<circle cx="71.2" cy="400.4" r="1.4" fill="#1458b0"/>
<circle cx="74.5" cy="399.0" r="1.4" fill="#1458b0"/>
<circle cx="77.8" cy="400.0" r="1.4" fill="#1458b0"/>
<circle cx="81.1" cy="398.0" r="1.4" fill="#1458b0"/>
<circle cx="84.4" cy="396.0" r="1.4" fill="#1458b0"/>
<circle cx="87.7" cy="433.2" r="1.4" fill="#1458b0"/>
<circle cx="91.1" cy="404.0" r="1.4" fill="#1458b0"/>
<circle cx="94.4" cy="413.0" r="1.4" fill="#1458b0"/>
<circle cx="97.7" cy="400.4" r="1.4" fill="#1458b0"/>
<circle cx="101.0" cy="424.6" r="1.4" fill="#1458b0"/>
<circle cx="104.3" cy="425.4" r="1.4" fill="#1458b0"/>
<circle cx="107.6" cy="395.6" r="1.4" fill="#1458b0"/>
<circle cx="110.9" cy="412.4" r="1.4" fill="#1458b0"/>
<circle cx="114.2" cy="388.8" r="1.4" fill="#1458b0"/>
<circle cx="117.6" cy="429.4" r="1.4" fill="#1458b0"/>
<circle cx="120.9" cy="456.4" r="1.4" fill="#1458b0"/>
<circle cx="124.2" cy="433.6" r="1.4" fill="#1458b0"/>
<circle cx="127.5" cy="405.4" r="1.4" fill="#1458b0"/>
<circle cx="130.8" cy="452.4" r="1.4" fill="#1458b0"/>
<circle cx="134.1" cy="365.4" r="1.4" fill="#1458b0"/>
<circle cx="137.4" cy="395.2" r="1.4" fill="#1458b0"/>
<circle cx="140.8" cy="369.8" r="1.4" fill="#1458b0"/>
<circle cx="144.1" cy="408.8" r="1.4" fill="#1458b0"/>
<circle cx="147.4" cy="390.0" r="1.4" fill="#1458b0"/>
<circle cx="150.7" cy="459.4" r="1.4" fill="#1458b0"/>
<circle cx="154.0" cy="413.4" r="1.4" fill="#1458b0"/>
<circle cx="157.3" cy="386.4" r="1.4" fill="#1458b0"/>
<circle cx="160.6" cy="411.4" r="1.4" fill="#1458b0"/>
<circle cx="164.0" cy="416.4" r="1.4" fill="#1458b0"/>
<circle cx="167.3" cy="435.6" r="1.4" fill="#1458b0"/>
<circle cx="170.6" cy="352.8" r="1.4" fill="#1458b0"/>
<circle cx="173.9" cy="452.2" r="1.4" fill="#1458b0"/>
<circle cx="177.2" cy="385.0" r="1.4" fill="#1458b0"/>
<circle cx="180.5" cy="363.2" r="1.4" fill="#1458b0"/>
<circle cx="183.8" cy="416.8" r="1.4" fill="#1458b0"/>
<circle cx="187.2" cy="362.0" r="1.4" fill="#1458b0"/>
<circle cx="190.5" cy="384.2" r="1.4" fill="#1458b0"/>
<circle cx="193.8" cy="448.0" r="1.4" fill="#1458b0"/>
<circle cx="197.1" cy="412.4" r="1.4" fill="#1458b0"/>
<circle cx="200.4" cy="396.0" r="1.4" fill="#1458b0"/>
<circle cx="203.7" cy="385.8" r="1.4" fill="#1458b0"/>
<circle cx="207.0" cy="336.8" r="1.4" fill="#1458b0"/>
<circle cx="210.4" cy="441.4" r="1.4" fill="#1458b0"/>
<circle cx="213.7" cy="346.6" r="1.4" fill="#1458b0"/>
<circle cx="217.0" cy="412.0" r="1.4" fill="#1458b0"/>
<circle cx="220.3" cy="436.6" r="1.4" fill="#1458b0"/>
<circle cx="223.6" cy="346.6" r="1.4" fill="#1458b0"/>
<circle cx="226.9" cy="434.6" r="1.4" fill="#1458b0"/>
<circle cx="230.2" cy="427.8" r="1.4" fill="#1458b0"/>
<circle cx="233.6" cy="403.6" r="1.4" fill="#1458b0"/>
<circle cx="236.9" cy="444.4" r="1.4" fill="#1458b0"/>
<circle cx="240.2" cy="421.4" r="1.4" fill="#1458b0"/>
<circle cx="243.5" cy="400.2" r="1.4" fill="#1458b0"/>
<circle cx="246.8" cy="403.2" r="1.4" fill="#1458b0"/>
<circle cx="250.1" cy="442.2" r="1.4" fill="#1458b0"/>
<circle cx="253.4" cy="417.8" r="1.4" fill="#1458b0"/>
<circle cx="256.8" cy="408.0" r="1.4" fill="#1458b0"/>
<circle cx="260.1" cy="405.4" r="1.4" fill="#1458b0"/>
<circle cx="263.4" cy="403.6" r="1.4" fill="#1458b0"/>
<circle cx="266.7" cy="378.4" r="1.4" fill="#1458b0"/>
<circle cx="270.0" cy="408.4" r="1.4" fill="#1458b0"/>
<circle cx="273.3" cy="371.4" r="1.4" fill="#1458b0"/>
<circle cx="276.6" cy="416.8" r="1.4" fill="#1458b0"/>
<circle cx="279.9" cy="407.4" r="1.4" fill="#1458b0"/>
<circle cx="283.3" cy="445.8" r="1.4" fill="#1458b0"/>
<circle cx="286.6" cy="399.6" r="1.4" fill="#1458b0"/>
<circle cx="289.9" cy="346.0" r="1.4" fill="#1458b0"/>
<circle cx="293.2" cy="422.4" r="1.4" fill="#1458b0"/>
<circle cx="296.5" cy="449.2" r="1.4" fill="#1458b0"/>
<circle cx="299.8" cy="341.6" r="1.4" fill="#1458b0"/>
<circle cx="303.1" cy="338.4" r="1.4" fill="#1458b0"/>
<circle cx="306.5" cy="451.4" r="1.4" fill="#1458b0"/>
<circle cx="309.8" cy="430.8" r="1.4" fill="#1458b0"/>
<circle cx="313.1" cy="454.4" r="1.4" fill="#1458b0"/>
<circle cx="316.4" cy="342.6" r="1.4" fill="#1458b0"/>
<circle cx="319.7" cy="414.2" r="1.4" fill="#1458b0"/>
<circle cx="323.0" cy="415.8" r="1.4" fill="#1458b0"/>
<circle cx="326.3" cy="453.4" r="1.4" fill="#1458b0"/>
<circle cx="329.7" cy="419.8" r="1.4" fill="#1458b0"/>
<circle cx="333.0" cy="413.0" r="1.4" fill="#1458b0"/>
<circle cx="336.3" cy="371.2" r="1.4" fill="#1458b0"/>
<circle cx="339.6" cy="387.6" r="1.4" fill="#1458b0"/>
<circle cx="342.9" cy="391.0" r="1.4" fill="#1458b0"/>
<circle cx="346.2" cy="388.0" r="1.4" fill="#1458b0"/>
<circle cx="349.5" cy="442.2" r="1.4" fill="#1458b0"/>
<circle cx="352.9" cy="449.2" r="1.4" fill="#1458b0"/>
<circle cx="356.2" cy="454.4" r="1.4" fill="#1458b0"/>
<circle cx="359.5" cy="451.4" r="1.4" fill="#1458b0"/>
<circle cx="362.8" cy="419.4" r="1.4" fill="#1458b0"/>
<circle cx="366.1" cy="403.2" r="1.4" fill="#1458b0"/>
<circle cx="369.4" cy="426.8" r="1.4" fill="#1458b0"/>
<circle cx="372.7" cy="435.0" r="1.4" fill="#1458b0"/>
<circle cx="376.1" cy="391.2" r="1.4" fill="#1458b0"/>
<circle cx="379.4" cy="403.6" r="1.4" fill="#1458b0"/>
<circle cx="382.7" cy="392.0" r="1.4" fill="#1458b0"/>
<circle cx="386.0" cy="418.8" r="1.4" fill="#1458b0"/>
<circle cx="389.3" cy="404.4" r="1.4" fill="#1458b0"/>
<circle cx="392.6" cy="398.4" r="1.4" fill="#1458b0"/>
<circle cx="395.9" cy="409.4" r="1.4" fill="#1458b0"/>
<circle cx="399.3" cy="420.2" r="1.4" fill="#1458b0"/>
<circle cx="402.6" cy="401.6" r="1.4" fill="#1458b0"/>
<circle cx="405.9" cy="425.0" r="1.4" fill="#1458b0"/>
<circle cx="409.2" cy="412.0" r="1.4" fill="#1458b0"/>
<circle cx="412.5" cy="402.4" r="1.4" fill="#1458b0"/>
<circle cx="415.8" cy="406.6" r="1.4" fill="#1458b0"/>
<circle cx="419.1" cy="408.4" r="1.4" fill="#1458b0"/>
<circle cx="422.5" cy="402.4" r="1.4" fill="#1458b0"/>
<circle cx="425.8" cy="401.6" r="1.4" fill="#1458b0"/>
<circle cx="429.1" cy="401.0" r="1.4" fill="#1458b0"/>
<circle cx="432.4" cy="403.0" r="1.4" fill="#1458b0"/>
<circle cx="435.7" cy="399.8" r="1.4" fill="#1458b0"/>
<circle cx="439.0" cy="399.8" r="1.4" fill="#1458b0"/>
<circle cx="442.3" cy="398.4" r="1.4" fill="#1458b0"/>
<circle cx="445.6" cy="400.6" r="1.4" fill="#1458b0"/>
<circle cx="449.0" cy="399.0" r="1.4" fill="#1458b0"/>
<circle cx="452.3" cy="399.0" r="1.4" fill="#1458b0"/>
<circle cx="455.6" cy="397.6" r="1.4" fill="#1458b0"/>
<circle cx="458.9" cy="397.6" r="1.4" fill="#1458b0"/>
<circle cx="462.2" cy="397.6" r="1.4" fill="#1458b0"/>
<circle cx="465.5" cy="397.8" r="1.4" fill="#1458b0"/>
<circle cx="468.8" cy="394.8" r="1.4" fill="#1458b0"/>
<circle cx="472.2" cy="399.0" r="1.4" fill="#1458b0"/>
<circle cx="475.5" cy="399.0" r="1.4" fill="#1458b0"/>
<circle cx="478.8" cy="398.4" r="1.4" fill="#1458b0"/>
<circle cx="482.1" cy="397.0" r="1.4" fill="#1458b0"/>
<circle cx="485.4" cy="400.2" r="1.4" fill="#1458b0"/>
<circle cx="488.7" cy="400.0" r="1.4" fill="#1458b0"/>
<circle cx="492.0" cy="401.6" r="1.4" fill="#1458b0"/>
<circle cx="495.4" cy="399.0" r="1.4" fill="#1458b0"/>
<circle cx="498.7" cy="400.8" r="1.4" fill="#1458b0"/>
<circle cx="502.0" cy="400.0" r="1.4" fill="#1458b0"/>
<circle cx="505.3" cy="398.0" r="1.4" fill="#1458b0"/>
<circle cx="508.6" cy="397.0" r="1.4" fill="#1458b0"/>
<circle cx="511.9" cy="398.6" r="1.4" fill="#1458b0"/>
<circle cx="515.2" cy="399.0" r="1.4" fill="#1458b0"/>
<circle cx="518.6" cy="398.4" r="1.4" fill="#1458b0"/>
<circle cx="521.9" cy="402.6" r="1.4" fill="#1458b0"/>
<circle cx="525.2" cy="400.4" r="1.4" fill="#1458b0"/>
<circle cx="528.5" cy="398.0" r="1.4" fill="#1458b0"/>
<circle cx="531.8" cy="400.0" r="1.4" fill="#1458b0"/>
<circle cx="535.1" cy="399.2" r="1.4" fill="#1458b0"/>
<circle cx="538.4" cy="401.2" r="1.4" fill="#1458b0"/>
<circle cx="541.8" cy="399.2" r="1.4" fill="#1458b0"/>
<circle cx="545.1" cy="398.4" r="1.4" fill="#1458b0"/>
<circle cx="548.4" cy="400.8" r="1.4" fill="#1458b0"/>
<circle cx="551.7" cy="398.8" r="1.4" fill="#1458b0"/>
<circle cx="555.0" cy="403.2" r="1.4" fill="#1458b0"/>
<circle cx="558.3" cy="397.6" r="1.4" fill="#1458b0"/>
<circle cx="561.6" cy="399.2" r="1.4" fill="#1458b0"/>
<circle cx="565.0" cy="399.8" r="1.4" fill="#1458b0"/>
<circle cx="568.3" cy="401.8" r="1.4" fill="#1458b0"/>
<circle cx="571.6" cy="399.4" r="1.4" fill="#1458b0"/>
<circle cx="574.9" cy="397.6" r="1.4" fill="#1458b0"/>
<circle cx="578.2" cy="402.0" r="1.4" fill="#1458b0"/>
<circle cx="581.5" cy="400.6" r="1.4" fill="#1458b0"/>
<circle cx="584.8" cy="399.2" r="1.4" fill="#1458b0"/>
<circle cx="588.2" cy="400.0" r="1.4" fill="#1458b0"/>
<circle cx="591.5" cy="398.2" r="1.4" fill="#1458b0"/>
<circle cx="594.8" cy="399.4" r="1.4" fill="#1458b0"/>
<circle cx="598.1" cy="398.8" r="1.4" fill="#1458b0"/>
<circle cx="601.4" cy="400.2" r="1.4" fill="#1458b0"/>
<circle cx="604.7" cy="402.8" r="1.4" fill="#1458b0"/>
<circle cx="608.0" cy="400.6" r="1.4" fill="#1458b0"/>
<circle cx="611.4" cy="402.0" r="1.4" fill="#1458b0"/>
<circle cx="614.7" cy="400.8" r="1.4" fill="#1458b0"/>
<circle cx="618.0" cy="399.8" r="1.4" fill="#1458b0"/>
<circle cx="621.3" cy="399.8" r="1.4" fill="#1458b0"/>
<circle cx="624.6" cy="400.6" r="1.4" fill="#1458b0"/>
<circle cx="627.9" cy="398.4" r="1.4" fill="#1458b0"/>
<circle cx="631.2" cy="399.4" r="1.4" fill="#1458b0"/>
<circle cx="634.5" cy="400.4" r="1.4" fill="#1458b0"/>
<circle cx="637.9" cy="400.2" r="1.4" fill="#1458b0"/>
<circle cx="641.2" cy="400.0" r="1.4" fill="#1458b0"/>
<circle cx="644.5" cy="398.0" r="1.4" fill="#1458b0"/>
<circle cx="647.8" cy="398.0" r="1.4" fill="#1458b0"/>
<circle cx="651.1" cy="398.2" r="1.4" fill="#1458b0"/>
<circle cx="654.4" cy="399.4" r="1.4" fill="#1458b0"/>
<circle cx="657.7" cy="398.6" r="1.4" fill="#1458b0"/>
<circle cx="661.1" cy="397.0" r="1.4" fill="#1458b0"/>
<circle cx="664.4" cy="398.0" r="1.4" fill="#1458b0"/>
<circle cx="667.7" cy="397.6" r="1.4" fill="#1458b0"/>
<circle cx="671.0" cy="402.4" r="1.4" fill="#1458b0"/>
<circle cx="674.3" cy="394.0" r="1.4" fill="#1458b0"/>
<circle cx="677.6" cy="401.2" r="1.4" fill="#1458b0"/>
<circle cx="680.9" cy="397.4" r="1.4" fill="#1458b0"/>
<circle cx="684.3" cy="397.4" r="1.4" fill="#1458b0"/>
<circle cx="687.6" cy="400.4" r="1.4" fill="#1458b0"/>
<circle cx="690.9" cy="398.4" r="1.4" fill="#1458b0"/>
<rect x="767.3" y="177.2" width="16.4" height="8" fill="#d9232f"/>
<rect x="892.9" y="177.2" width="16.4" height="8" fill="#5a9e49"/>
<rect x="735.8" y="322.9" width="16.4" height="8" fill="#1458b0"/>
<rect x="872" y="322.9" width="16.4" height="8" fill="#ff8a3c"/>
<rect x="886" y="468.8" width="16.4" height="8" fill="#1458b0"/>
</svg>
<div class="t title" style="left:3px;top:1.6px;">April 8, 2020</div>
<div class="t xl" style="left:-1.5px;top:28px;width:60px;text-align:center">12AM</div>
<div class="t xl" style="left:117.8px;top:28px;width:60px;text-align:center">3AM</div>
<div class="t xl" style="left:237.0px;top:28px;width:60px;text-align:center">6AM</div>
<div class="t xl" style="left:356.3px;top:28px;width:60px;text-align:center">9AM</div>
<div class="t xl" style="left:475.5px;top:28px;width:60px;text-align:center">12PM</div>
<div class="t xl" style="left:594.8px;top:28px;width:60px;text-align:center">3PM</div>
<div class="t xl" style="left:714.0px;top:28px;width:60px;text-align:center">6PM</div>
<div class="t xl" style="left:833.3px;top:28px;width:60px;text-align:center">9PM</div>
<div class="t xl" style="left:952.5px;top:28px;width:60px;text-align:center">12AM</div>
<div class="t yl" style="left:0px;top:38.2px;width:22.6px;text-align:right;transform-origin:100% 50%">22</div>
<div class="t yl" style="left:0px;top:57.9px;width:22.6px;text-align:right;transform-origin:100% 50%">20</div>
<div class="t yl" style="left:0px;top:77.5px;width:22.6px;text-align:right;transform-origin:100% 50%">18</div>
<div class="t yl" style="left:0px;top:97.2px;width:22.6px;text-align:right;transform-origin:100% 50%">16</div>
<div class="t yl" style="left:0px;top:116.9px;width:22.6px;text-align:right;transform-origin:100% 50%">14</div>
<div class="t yl" style="left:0px;top:136.6px;width:22.6px;text-align:right;transform-origin:100% 50%">12</div>
<div class="t yl" style="left:0px;top:156.2px;width:22.6px;text-align:right;transform-origin:100% 50%">10</div>
<div class="t yl" style="left:0px;top:190.3px;width:22.6px;text-align:right;transform-origin:100% 50%">35</div>
<div class="t yl" style="left:0px;top:208.1px;width:22.6px;text-align:right;transform-origin:100% 50%">30</div>
<div class="t yl" style="left:0px;top:225.9px;width:22.6px;text-align:right;transform-origin:100% 50%">25</div>
<div class="t yl" style="left:0px;top:243.8px;width:22.6px;text-align:right;transform-origin:100% 50%">20</div>
<div class="t yl" style="left:0px;top:261.6px;width:22.6px;text-align:right;transform-origin:100% 50%">15</div>
<div class="t yl" style="left:0px;top:279.4px;width:22.6px;text-align:right;transform-origin:100% 50%">10</div>
<div class="t yl" style="left:0px;top:297.2px;width:22.6px;text-align:right;transform-origin:100% 50%">5</div>
<div class="t yl" style="left:0px;top:329.3px;width:22.6px;text-align:right;transform-origin:100% 50%">360°</div>
<div class="t yl" style="left:0px;top:360.1px;width:22.6px;text-align:right;transform-origin:100% 50%">270°</div>
<div class="t yl" style="left:0px;top:391.0px;width:22.6px;text-align:right;transform-origin:100% 50%">180°</div>
<div class="t yl" style="left:0px;top:421.8px;width:22.6px;text-align:right;transform-origin:100% 50%">90°</div>
<div class="t yl" style="left:0px;top:452.6px;width:22.6px;text-align:right;transform-origin:100% 50%">0°</div>
<div class="t yl" style="left:987.2px;top:329.7px">N</div>
<div class="t yl" style="left:987.2px;top:360.5px">W</div>
<div class="t yl" style="left:987.2px;top:391.4px">S</div>
<div class="t yl" style="left:987.2px;top:422.2px">E</div>
<div class="t yl" style="left:987.2px;top:453.0px">N</div>
<div class="t lg" style="left:788px;top:174.3px;">Temperature (°C)</div>
<div class="t lg" style="left:914px;top:174.3px;">Dew Point (°)</div>
<div class="t lg" style="left:757px;top:319.9px;">Wind Speed (km/h)</div>
<div class="t lg" style="left:892px;top:319.9px;">Wind Gust (km/h)</div>
<div class="t lg" style="left:907px;top:465.9px;">Wind Direction</div>
<div class="vbx" style="left:671px;top:27px;width:47.0px;height:18.5px"></div>
<div class="t" style="left:673px;top:28.5px;font-size:12.3px;line-height:14.8px;color:#222;transform:scaleX(0.93);transform-origin:0 50%">4:39 PM</div>
<div class="vbx" style="left:694px;top:45.5px;width:43.0px;height:21.5px"></div>
<div class="t" style="left:695.6px;top:50.0px;font-size:11.8px;line-height:14.2px;color:#d9232f;transform:scaleX(0.975);transform-origin:0 50%">21.8 °C</div>
<div class="vbx" style="left:694.3px;top:111px;width:30.7px;height:21.5px"></div>
<div class="t" style="left:696.9px;top:114.0px;font-size:11.7px;line-height:14.0px;color:#5a9e49;transform:scaleX(0.98);transform-origin:0 50%">15.2°</div>
<div class="vbx" style="left:694px;top:255px;width:54.6px;height:21.5px"></div>
<div class="t" style="left:696.8px;top:260.0px;font-size:11px;line-height:13.2px;color:#ff8a3c;transform:scaleX(1.03);transform-origin:0 50%">18.3 km/h</div>
<div class="vbx" style="left:694px;top:279px;width:54.6px;height:21.5px"></div>
<div class="t" style="left:696.8px;top:283.5px;font-size:11px;line-height:13.2px;color:#1458b0;transform:scaleX(1.03);transform-origin:0 50%">14.3 km/h</div>
<div class="vbx" style="left:694px;top:398.5px;width:90.6px;height:21.5px"></div>
<div class="t" style="left:696.8px;top:403.0px;font-size:11.3px;line-height:13.6px;color:#1458b0;transform:scaleX(1.02);transform-origin:0 50%">178 deg (from S)</div>
<div class="t yl" style="left:17px;top:475.2px">1</div>
</body></html>
